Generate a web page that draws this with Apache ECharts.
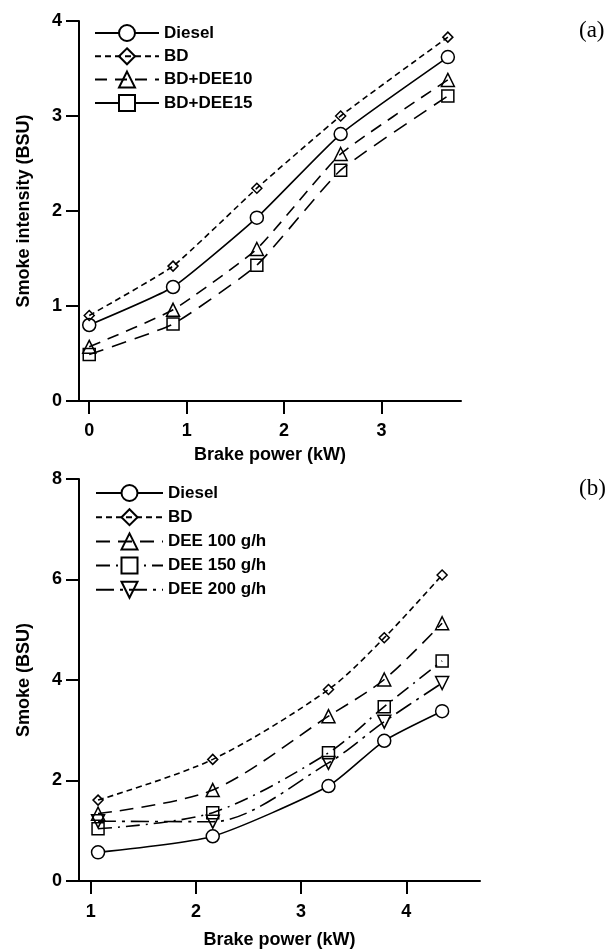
<!DOCTYPE html>
<html><head><meta charset="utf-8">
<script src="https://cdn.jsdelivr.net/npm/echarts@6/dist/echarts.min.js"></script>
<style>html,body{margin:0;padding:0;background:#fff}#c{width:608px;height:952px}</style>
</head><body><div id="c"></div>
<script>
// Panel (a)
const powerA = [0, 0.86, 1.72, 2.58, 3.68];
const dieselA = [0.80, 1.20, 1.93, 2.81, 3.62];
const bdA = [0.90, 1.42, 2.24, 3.00, 3.83];
const dee10A = [0.57, 0.96, 1.60, 2.60, 3.38];
const dee15A = [0.49, 0.81, 1.43, 2.43, 3.21];
const namesA = ['Diesel', 'BD', 'BD+DEE10', 'BD+DEE15'];
const xTicksA = [0, 1, 2, 3];
// Panel (b)
const powerB = [1.07, 2.16, 3.26, 3.79, 4.34];
const dieselB = [0.57, 0.89, 1.89, 2.79, 3.38];
const bdB = [1.61, 2.42, 3.81, 4.84, 6.09];
const dee100B = [1.34, 1.81, 3.28, 4.01, 5.13];
const dee150B = [1.04, 1.36, 2.55, 3.47, 4.38];
const dee200B = [1.19, 1.18, 2.35, 3.17, 3.94];
const namesB = ['Diesel', 'BD', 'DEE 100 g/h', 'DEE 150 g/h', 'DEE 200 g/h'];
const xTicksB = [1, 2, 3, 4];

const FONT = '"Liberation Sans", Arial, sans-serif';
const pair = (xs, ys) => xs.map((x, i) => [x, ys[i]]);

const styles = {
  circle: {symbol: 'circle', size: 13, fill: '#fff'},
  diamond: {symbol: 'diamond', size: 10, fill: 'rgba(0,0,0,0)'},
  tri: {symbol: 'triangle', size: 13, fill: 'rgba(0,0,0,0)'},
  rect: {symbol: 'rect', size: 12, fill: 'rgba(0,0,0,0)'},
  tridown: {symbol: 'triangle', size: 13, fill: 'rgba(0,0,0,0)', rotate: 180}
};

function mk(name, xs, ys, idx, st, dash, smooth) {
  const s = styles[st];
  return {
    type: 'line', name, xAxisIndex: idx, yAxisIndex: idx,
    data: pair(xs, ys),
    symbol: s.symbol, symbolSize: s.size, symbolRotate: s.rotate || 0,
    smooth: smooth,
    lineStyle: {color: '#000', width: 1.6, type: dash},
    itemStyle: {color: s.fill, borderColor: '#000', borderWidth: 1.5},
    z: 3
  };
}

const axisCommon = {
  axisLine: {show: true, onZero: false, lineStyle: {color: '#000', width: 2}},
  axisTick: {show: true, length: 13, lineStyle: {color: '#000', width: 2}},
  splitLine: {show: false},
  axisLabel: {color: '#000', fontFamily: FONT, fontWeight: 'bold', fontSize: 18},
  nameTextStyle: {color: '#000', fontFamily: FONT, fontWeight: 'bold', fontSize: 18},
  nameLocation: 'middle'
};

const legendText = {color: '#000', fontFamily: FONT, fontWeight: 'bold', fontSize: 17};

const option = {
  animation: false,
  backgroundColor: '#fff',
  grid: [
    {left: 79, top: 21, width: 382, height: 380},
    {left: 79, top: 479, width: 401, height: 402}
  ],
  xAxis: [
    Object.assign({}, axisCommon, {
      type: 'value', gridIndex: 0, min: -0.105, max: 3.815,
      name: 'Brake power (kW)', nameGap: 45,
      axisTick: Object.assign({}, axisCommon.axisTick, {customValues: xTicksA}),
      axisLabel: Object.assign({}, axisCommon.axisLabel, {customValues: xTicksA, margin: 21})
    }),
    Object.assign({}, axisCommon, {
      type: 'value', gridIndex: 1, min: 0.889, max: 4.70,
      name: 'Brake power (kW)', nameGap: 50,
      axisTick: Object.assign({}, axisCommon.axisTick, {customValues: xTicksB}),
      axisLabel: Object.assign({}, axisCommon.axisLabel, {customValues: xTicksB, margin: 22})
    })
  ],
  yAxis: [
    Object.assign({}, axisCommon, {
      type: 'value', gridIndex: 0, min: 0, max: 4, interval: 1,
      name: 'Smoke intensity (BSU)', nameGap: 46,
      axisLabel: Object.assign({}, axisCommon.axisLabel, {margin: 17})
    }),
    Object.assign({}, axisCommon, {
      type: 'value', gridIndex: 1, min: 0, max: 8, interval: 2,
      name: 'Smoke (BSU)', nameGap: 46,
      axisLabel: Object.assign({}, axisCommon.axisLabel, {margin: 17})
    })
  ],
  legend: [
    {
      orient: 'vertical', left: 94, top: 24, padding: 0,
      itemWidth: 64, itemHeight: 20, itemGap: 5.3,
      selectedMode: false, textStyle: legendText,
      data: namesA.map(n => n === 'BD+DEE15'
        ? {name: n, lineStyle: {type: 'solid'}, itemStyle: {color: '#fff'}}
        : {name: n})
    },
    {
      orient: 'vertical', left: 95, top: 484, padding: 0,
      itemWidth: 67, itemHeight: 20, itemGap: 6.2,
      selectedMode: false, textStyle: legendText,
      data: namesB.map(n => n === 'DEE 150 g/h'
        ? {name: n, itemStyle: {color: '#fff'}}
        : {name: n})
    }
  ],
  graphic: [
    {type: 'text', left: 579, top: 19, style: {text: '(a)', font: '23px "Liberation Serif", "Times New Roman", serif', fill: '#000'}},
    {type: 'text', left: 579, top: 477, style: {text: '(b)', font: '23px "Liberation Serif", "Times New Roman", serif', fill: '#000'}}
  ],
  series: [
    mk(namesA[0], powerA, dieselA, 0, 'circle', 'solid', 0.15),
    mk(namesA[1], powerA, bdA, 0, 'diamond', [6, 4], 0.15),
    mk(namesA[2], powerA, dee10A, 0, 'tri', [12, 8], 0.15),
    mk(namesA[3], powerA, dee15A, 0, 'rect', [15, 9], 0.15),
    mk(namesB[0], powerB, dieselB, 1, 'circle', 'solid', 0.2),
    mk(namesB[1], powerB, bdB, 1, 'diamond', [6, 4], 0.3),
    mk(namesB[2], powerB, dee100B, 1, 'tri', [14, 8], 0.3),
    mk(namesB[3], powerB, dee150B, 1, 'rect', [14, 6, 2, 6], 0.3),
    mk(namesB[4], powerB, dee200B, 1, 'tridown', [18, 6, 3, 6], 0.3)
  ]
};
const chart = echarts.init(document.getElementById('c'), null, {renderer: 'canvas'});
chart.setOption(option);
</script>
</body></html>
